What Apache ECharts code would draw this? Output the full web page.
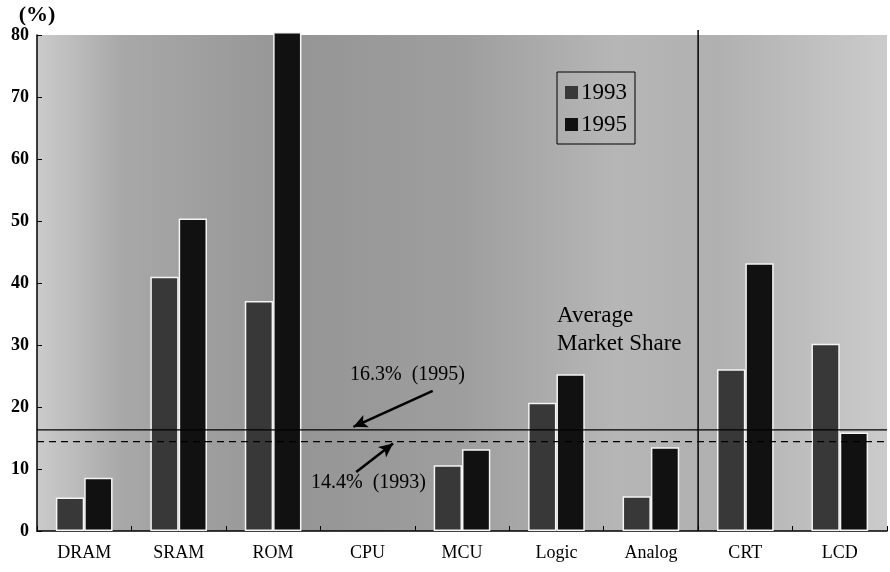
<!DOCTYPE html>
<html><head><meta charset="utf-8">
<script src="https://cdn.jsdelivr.net/npm/echarts@6/dist/echarts.min.js"></script>
<style>html,body{margin:0;padding:0;background:#fff}#c{width:890px;height:572px}</style>
</head><body><div id="c"></div>
<script>
const categories = ['DRAM','SRAM','ROM','CPU','MCU','Logic','Analog','CRT','LCD'];
const share1993 = [5.4, 41.0, 37.1, null, 10.6, 20.7, 5.6, 26.1, 30.2];
const share1995 = [8.6, 50.4, 80.5, null, 13.2, 25.3, 13.5, 43.2, 15.9];
const avg1993 = 14.4;
const avg1995 = 16.3;
const dividerAt = 7; // boundary between Analog and CRT (category index units)
const yTicks = [0,10,20,30,40,50,60,70,80];

const serif = '"Liberation Serif","DejaVu Serif",serif';
const chart = echarts.init(document.getElementById('c'), null, {renderer:'canvas'});
const n = categories.length;
chart.setOption({
  backgroundColor:'#fff',
  animation:false,
  grid:{left:37,right:3,top:35,bottom:41,show:true,borderWidth:0,
    backgroundColor:new echarts.graphic.LinearGradient(0,0,1,0,[
      {offset:0,color:'#cbcbcb'},{offset:0.1,color:'#a8a8a8'},{offset:0.3,color:'#959595'},
      {offset:0.5,color:'#9e9e9e'},{offset:0.68,color:'#b6b6b6'},{offset:0.8,color:'#b0b0b0'},
      {offset:1,color:'#cbcbcb'}])},
  legend:{show:true,orient:'vertical',left:557,top:72,
    padding:[9,8,8,8],itemGap:9,itemWidth:13,itemHeight:13,icon:'rect',
    borderColor:'#000',borderWidth:1,backgroundColor:'rgba(0,0,0,0)',
    itemStyle:{borderWidth:0},
    data:['1993','1995'],
    textStyle:{fontFamily:serif,fontSize:23,color:'#000',padding:[0,0,0,-2]}},
  xAxis:[{type:'category',data:categories,boundaryGap:true,
    axisLine:{show:true,lineStyle:{color:'#000',width:1.5}},
    axisTick:{show:true,inside:true,length:5,lineStyle:{color:'#000'}},
    axisLabel:{fontFamily:serif,fontSize:18,color:'#000',margin:13}},
    {type:'value',min:0,max:n,show:false}],
  yAxis:{type:'value',min:0,max:80,interval:10,
    name:'(%)',nameLocation:'end',nameGap:6,
    nameTextStyle:{fontFamily:serif,fontSize:22,fontWeight:'bold',color:'#000',align:'center'},
    axisLine:{show:true,lineStyle:{color:'#000',width:1.5}},
    axisTick:{show:true,inside:true,length:5,lineStyle:{color:'#000'}},
    splitLine:{show:false},
    axisLabel:{fontFamily:serif,fontSize:18,fontWeight:'bold',color:'#000',margin:8,
      formatter:v=>yTicks.includes(v)?String(v):''}},
  series:[
    {name:'1993',type:'bar',data:share1993,barGap:'0%',barCategoryGap:'40%',clip:false,
      itemStyle:{color:'#383838',borderColor:'#f4f4f4',borderWidth:1.5}},
    {name:'1995',type:'bar',data:share1995,clip:false,
      itemStyle:{color:'#111',borderColor:'#f4f4f4',borderWidth:1.5}},
    {name:'avg1995',type:'line',xAxisIndex:1,data:[[0,avg1995],[n,avg1995]],symbol:'none',
      lineStyle:{color:'#000',width:1.2},z:5},
    {name:'avg1993',type:'line',xAxisIndex:1,data:[[0,avg1993],[n,avg1993]],symbol:'none',
      lineStyle:{color:'#000',width:1.2,type:[7,5]},z:5},
    {name:'divider',type:'line',xAxisIndex:1,data:[[dividerAt,0],[dividerAt,80.8]],symbol:'none',clip:false,
      lineStyle:{color:'#000',width:1.5},z:5,
      markLine:{silent:true,symbol:['none','arrow'],symbolSize:[10,14],
        lineStyle:{color:'#000',width:2.5,type:'solid'},label:{show:false},
        data:[
          [{coord:[4.19,22.6]},{coord:[3.35,16.8]}],
          [{coord:[3.38,9.5]},{coord:[3.77,14.1]}]
        ]}}
  ],
  graphic:[
    {type:'text',left:350,top:365,style:{text:'16.3%  (1995)',font:'20px '+serif,fill:'#000'}},
    {type:'text',left:311,top:473,style:{text:'14.4%  (1993)',font:'20px '+serif,fill:'#000'}},
    {type:'text',left:557,top:302,style:{text:'Average\nMarket Share',font:'23px '+serif,fill:'#000',lineHeight:28}}
  ]
});
</script></body></html>
